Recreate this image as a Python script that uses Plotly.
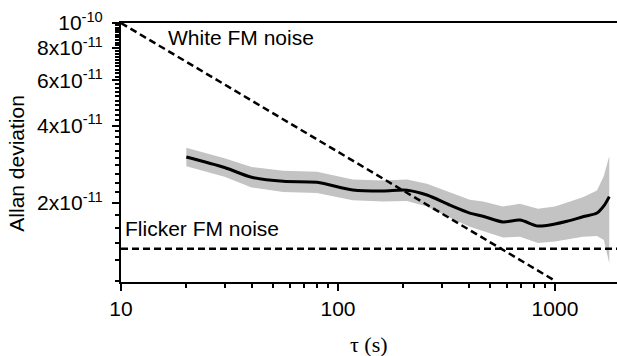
import plotly.graph_objects as go

# ---- data ----
tau = [20, 30, 40, 56, 80, 117, 161, 208, 257, 328, 405, 466, 576, 690, 835, 1000, 1136, 1345, 1562, 1680, 1780]
adev = [3.02e-11, 2.75e-11, 2.52e-11, 2.43e-11, 2.41e-11, 2.25e-11, 2.23e-11, 2.245e-11, 2.15e-11, 1.965e-11,
        1.83e-11, 1.78e-11, 1.69e-11, 1.72e-11, 1.63e-11, 1.66e-11, 1.70e-11, 1.77e-11, 1.83e-11, 1.95e-11, 2.12e-11]
adev_hi = [3.28e-11, 2.99e-11, 2.76e-11, 2.67e-11, 2.65e-11, 2.47e-11, 2.45e-11, 2.47e-11, 2.38e-11, 2.20e-11,
           2.06e-11, 2.03e-11, 1.94e-11, 1.99e-11, 1.90e-11, 1.94e-11, 2.01e-11, 2.11e-11, 2.24e-11, 2.55e-11, 3.05e-11]
adev_lo = [2.78e-11, 2.53e-11, 2.30e-11, 2.21e-11, 2.19e-11, 2.05e-11, 2.03e-11, 2.04e-11, 1.94e-11, 1.755e-11,
           1.62e-11, 1.56e-11, 1.47e-11, 1.48e-11, 1.40e-11, 1.42e-11, 1.44e-11, 1.48e-11, 1.49e-11, 1.44e-11, 1.17e-11]

white_tau = [10, 1000]
white_adev = [1e-10, 1e-11]
flicker_tau = [10, 1935]
flicker_adev = [1.33e-11, 1.33e-11]

x_tickvals = [10, 100, 1000]
x_ticktext = ["10", "100", "1000"]
x_minor = [20, 30, 40, 50, 60, 70, 80, 90, 200, 300, 400, 500, 600, 700, 800, 900]
y_tickvals = [2e-11, 4e-11, 6e-11, 8e-11, 1e-10]
y_ticktext = ["2x10<sup>-11</sup>", "4x10<sup>-11</sup>", "6x10<sup>-11</sup>", "8x10<sup>-11</sup>", "10<sup>-10</sup>"]
y_minor = [round(k * 2e-12, 15) for k in range(5, 50) if k % 10 != 0]

fig = go.Figure()
fig.add_trace(go.Scatter(x=tau + tau[::-1], y=adev_hi + adev_lo[::-1], fill="toself",
                         fillcolor="#c3c3c3", line=dict(width=0, color="#c3c3c3"),
                         mode="lines", hoverinfo="skip"))
fig.add_trace(go.Scatter(x=white_tau, y=white_adev, mode="lines",
                         line=dict(color="black", width=2.5, dash="7px,4px")))
fig.add_trace(go.Scatter(x=flicker_tau, y=flicker_adev, mode="lines",
                         line=dict(color="black", width=2.5, dash="7px,4px")))
fig.add_trace(go.Scatter(x=tau, y=adev, mode="lines",
                         line=dict(color="black", width=3, shape="spline", smoothing=0.8)))

fig.update_layout(
    width=617, height=356,
    margin=dict(l=121, r=0, t=23, b=74),
    plot_bgcolor="white", paper_bgcolor="white",
    showlegend=False,
    font=dict(family="Liberation Sans, Arial, sans-serif", size=21, color="black"),
)
fig.update_xaxes(
    type="log", range=[1, 3.286], showline=True, linecolor="black", linewidth=2, mirror=True,
    ticks="outside", ticklen=7, tickwidth=2, tickcolor="black",
    tickmode="array", tickvals=x_tickvals, ticktext=x_ticktext,
    showgrid=False, zeroline=False,
    minor=dict(ticks="outside", ticklen=4, tickwidth=2, tickcolor="black",
               tickmode="array", tickvals=x_minor, showgrid=False),
)
fig.update_yaxes(
    type="log", range=[-11.005, -10], showline=True, linecolor="black", linewidth=2, mirror=False,
    ticks="outside", ticklen=7, tickwidth=2, tickcolor="black",
    tickmode="array", tickvals=y_tickvals, ticktext=y_ticktext,
    ticklabelstandoff=5,
    showgrid=False, zeroline=False,
    minor=dict(ticks="outside", ticklen=4, tickwidth=1.5, tickcolor="black",
               tickmode="array", tickvals=y_minor, showgrid=False),
)

fig.add_annotation(text="White FM noise", xref="paper", yref="paper", x=0.090, y=0.944,
                   xanchor="left", yanchor="middle", showarrow=False, font=dict(size=21))
fig.add_annotation(text="Flicker FM noise", xref="paper", yref="paper", x=0.004, y=0.205,
                   xanchor="left", yanchor="middle", showarrow=False, font=dict(size=21))
fig.add_annotation(text="Allan deviation", xref="paper", yref="paper", x=-0.21, y=0.46,
                   xanchor="center", yanchor="middle", textangle=-90, showarrow=False, font=dict(size=21))
fig.add_annotation(text="τ (s)", xref="paper", yref="paper", x=0.5, y=-0.24,
                   xanchor="center", yanchor="middle", showarrow=False,
                   font=dict(family="Liberation Serif, Times New Roman, serif", size=22))

fig.write_html("out.html")
